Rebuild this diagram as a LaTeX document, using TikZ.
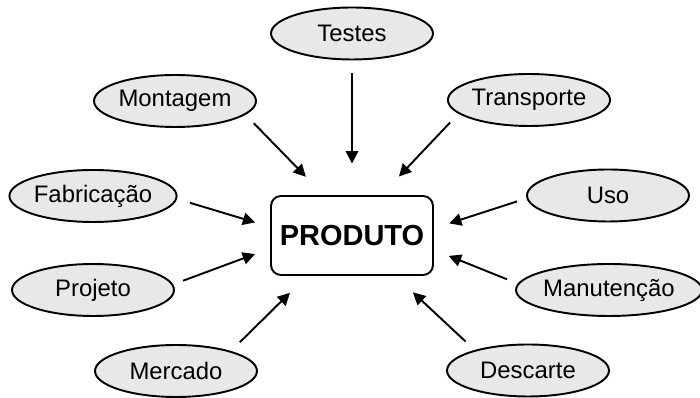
\documentclass[tikz,border=0pt]{standalone}
\usepackage{fontspec}
\setmainfont{Liberation Sans}
\usetikzlibrary{arrows.meta, shapes.geometric}

\begin{document}
\begin{tikzpicture}[
				x=0.02cm, y=0.02cm,
				etapa/.style={draw, ellipse, fill=gray!18, line width=1.1pt, minimum width=3.24cm, minimum height=1.04cm, inner sep=0pt, font=\fontsize{13.6}{16}\selectfont},
				produto/.style={draw, rounded corners=0.2cm, line width=1.1pt, minimum width=3.24cm, minimum height=1.58cm, font=\bfseries\fontsize{16.5}{19}\selectfont},
				arrow/.style={-{Triangle[length=7pt, width=7pt]}, line width=1.1pt}
			]
			\useasboundingbox (0,0) rectangle (700,398);

			% Central node
			\node[produto] (produto) at (352,162.5) {PRODUTO};

			% Nodes around the product
			\node[etapa] (testes)     at (352,364.5) {Testes};
			\node[etapa] (montagem)   at (175,297)   {Montagem};
			\node[etapa] (transporte) at (529,298)   {Transporte};
			\node[etapa] (fabricacao) at (93,202)    {Fabricação};
			\node[etapa] (uso)        at (608,202.5) {Uso};
			\node[etapa] (projeto)    at (93,108)    {Projeto};
			\node[etapa] (manutencao) at (609,108)   {Manutenção};
			\node[etapa] (mercado)    at (176,27)    {Mercado};
			\node[etapa] (descarte)   at (528,27.5)  {Descarte};

			% Arrows
			\draw[arrow, shorten <=0.26cm, shorten >=0.63cm] (testes.south) -- (produto.north);
			\draw[arrow, shorten <=0.24cm, shorten >=0.51cm] (montagem.-11.3) -- (produto.125.5);
			\draw[arrow, shorten <=0.24cm, shorten >=0.51cm] (transporte.191.3) -- (produto.54.5);
			\draw[arrow, shorten <=0.27cm, shorten >=0.31cm] (fabricacao.-2.2) -- (produto.174.2);
			\draw[arrow, shorten <=0.20cm, shorten >=0.32cm] (uso.182.3) -- (produto.5.2);
			\draw[arrow, shorten <=0.21cm, shorten >=0.32cm] (projeto.4.1) -- (produto.189.3);
			\draw[arrow, shorten <=0.23cm, shorten >=0.32cm] (manutencao.176) -- (produto.-10.4);
			\draw[arrow, shorten <=0.25cm, shorten >=0.48cm] (mercado.20.1) -- (produto.222.2);
			\draw[arrow, shorten <=0.25cm, shorten >=0.48cm] (descarte.159.9) -- (produto.317.8);

		\end{tikzpicture}
\end{document}
